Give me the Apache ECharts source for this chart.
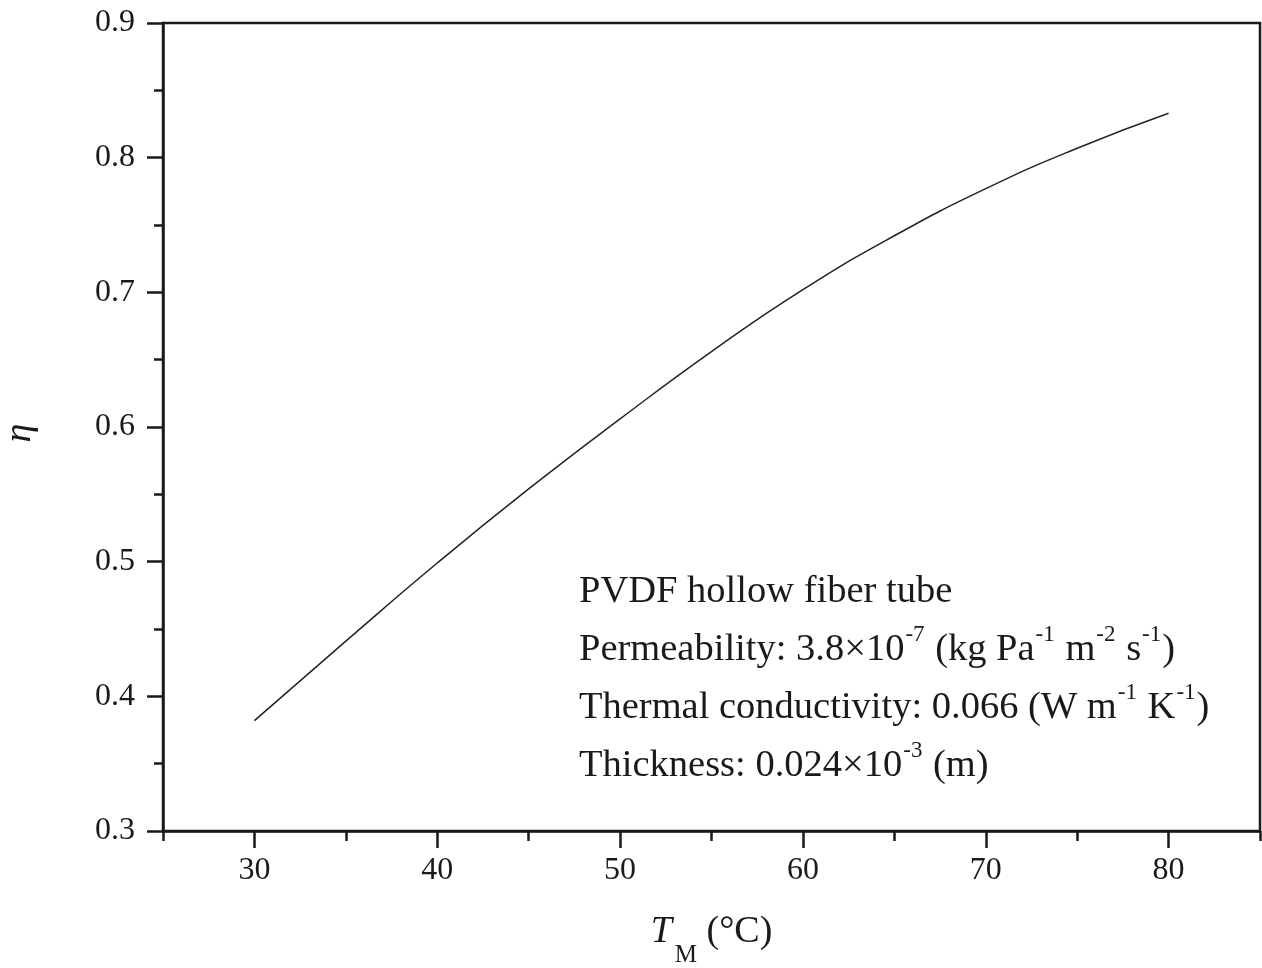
<!DOCTYPE html>
<html>
<head>
<meta charset="utf-8">
<script src="https://cdn.jsdelivr.net/npm/echarts@6/dist/echarts.min.js"></script>
<style>
  html, body { margin: 0; padding: 0; background: #fff; }
  #chart { width: 1262px; height: 968px; }
</style>
</head>
<body>
<div id="chart"></div>
<script>
// membrane temperature (°C)
const tempM = [30, 35, 40, 45, 50, 55, 60, 65, 70, 75, 80];
// efficiency eta
const eta = [0.382, 0.441, 0.499, 0.554, 0.606, 0.656, 0.702, 0.742, 0.777, 0.807, 0.833];
// tick positions
const xMajorTicks = [30, 40, 50, 60, 70, 80];
const xMinorTicks = [25, 35, 45, 55, 65, 75, 85];

const serif = '"Liberation Serif", "DejaVu Serif", serif';
const ink = '#1a1a1a';

const chart = echarts.init(document.getElementById('chart'));

// annotation, superscripts via rich text
const noteText = [
  '{n|PVDF hollow fiber tube}',
  '{n|Permeability: 3.8×10}{s|-7}{n| (kg Pa}{s|-1}{n| m}{s|-2}{n| s}{s|-1}{n|)}',
  '{n|Thermal conductivity: 0.066 (W m}{s|-1}{n| K}{s|-1}{n|)}',
  '{n|Thickness: 0.024×10}{s|-3}{n| (m)}',
].join('\n');

const option = {
  backgroundColor: '#fff',
  animation: false,
  grid: {
    left: 163,
    top: 23,
    right: 2,
    bottom: 137,
    outerBoundsMode: 'none',
    show: true,
    borderColor: ink,
    borderWidth: 2.5,
  },
  xAxis: [
    {
      type: 'value',
      min: 25,
      max: 85,
      position: 'bottom',
      name: '{t|T}{m|M}{n| (°C)}',
      nameLocation: 'middle',
      nameGap: 82,
      nameTextStyle: {
        color: ink,
        fontFamily: serif,
        rich: {
          t: { fontSize: 38, fontStyle: 'italic', fontFamily: serif, color: ink, lineHeight: 40, verticalAlign: 'top' },
          m: { fontSize: 25, fontFamily: serif, color: ink, lineHeight: 25, verticalAlign: 'top', padding: [30, 0, 0, 3] },
          n: { fontSize: 38, fontFamily: serif, color: ink, lineHeight: 40, verticalAlign: 'top' },
        },
      },
      axisLine: { lineStyle: { color: ink, width: 2.5 } },
      axisTick: { customValues: xMajorTicks, length: 17, lineStyle: { color: ink, width: 2.5 } },
      axisLabel: {
        customValues: xMajorTicks,
        fontSize: 32,
        fontFamily: serif,
        color: ink,
        margin: 24,
      },
      splitLine: { show: false },
    },
    {
      type: 'value',
      min: 25,
      max: 85,
      position: 'bottom',
      axisLine: { show: false },
      axisTick: { customValues: xMinorTicks, length: 10, lineStyle: { color: ink, width: 2.5 } },
      axisLabel: { show: false },
      splitLine: { show: false },
    },
  ],
  yAxis: {
    type: 'value',
    min: 0.3,
    max: 0.9,
    interval: 0.1,
    name: 'η',
    nameLocation: 'middle',
    nameRotate: 90,
    nameGap: 124,
    nameTextStyle: { fontSize: 38, fontStyle: 'italic', fontFamily: serif, color: ink, padding: [0, 12, 0, 0] },
    axisLine: { show: true, lineStyle: { color: ink, width: 2.5 } },
    axisTick: { show: true, length: 16, lineStyle: { color: ink, width: 2.5 } },
    minorTick: { show: true, splitNumber: 2, length: 9, lineStyle: { color: ink, width: 2.5 } },
    axisLabel: {
      fontSize: 32,
      fontFamily: serif,
      color: ink,
      margin: 28,
      formatter: (v) => v.toFixed(1),
    },
    splitLine: { show: false },
  },
  series: [
    {
      type: 'line',
      data: tempM.map((t, i) => [t, eta[i]]),
      smooth: true,
      showSymbol: false,
      lineStyle: { color: '#222', width: 1.5 },
    },
  ],
  graphic: [
    {
      type: 'text',
      left: 579,
      top: 572,
      style: {
        text: noteText,
        fill: ink,
        rich: {
          n: { fontSize: 38.5, fontFamily: serif, fill: ink, lineHeight: 58, verticalAlign: 'middle' },
          s: { fontSize: 23, fontFamily: serif, fill: ink, lineHeight: 58, verticalAlign: 'middle', padding: [0, 1, 30, 1] },
        },
      },
    },
  ],
};

chart.setOption(option);
</script>
</body>
</html>
